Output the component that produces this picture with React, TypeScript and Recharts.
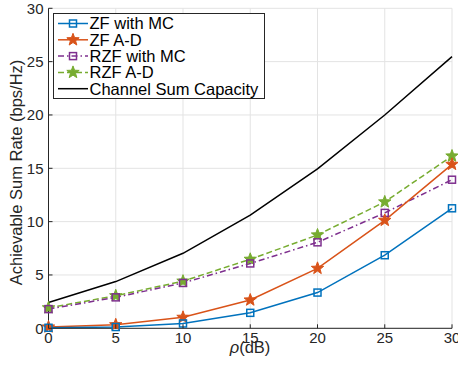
import React from 'react';
import { LineChart, Line, XAxis, YAxis, CartesianGrid, Legend } from 'recharts';

const rho = [0, 5, 10, 15, 20, 25, 30];
const zfMC = [0.05, 0.12, 0.45, 1.45, 3.35, 6.85, 11.25];
const zfAD = [0.12, 0.33, 1.03, 2.65, 5.62, 10.12, 15.37];
const rzfMC = [1.8, 2.9, 4.25, 6.08, 8.06, 10.82, 13.93];
const rzfAD = [1.92, 3.05, 4.42, 6.47, 8.75, 11.85, 16.15];
const capacity = [2.42, 4.38, 7.03, 10.6, 14.95, 20.0, 25.47];

const xTicks = [0, 5, 10, 15, 20, 25, 30];
const yTicks = [0, 5, 10, 15, 20, 25, 30];

const seriesNames = ['ZF with MC', 'ZF A-D', 'RZF with MC', 'RZF A-D', 'Channel Sum Capacity'];

const data = rho.map((r, i) => ({
  rho: r,
  zfMC: zfMC[i],
  zfAD: zfAD[i],
  rzfMC: rzfMC[i],
  rzfAD: rzfAD[i],
  cap: capacity[i],
}));

const FONT = '"Liberation Sans", Arial, Helvetica, sans-serif';
const AX = '#262626';

const BLUE = '#0072BD';
const ORANGE = '#D95319';
const PURPLE = '#7E2F8E';
const GREEN = '#77AC30';

function starPath(cx: number, cy: number, R: number, r: number) {
  let d = '';
  for (let i = 0; i < 10; i++) {
    const a = (-90 + i * 36) * Math.PI / 180;
    const rad = i % 2 === 0 ? R : r;
    d += (i === 0 ? 'M' : 'L') + (cx + rad * Math.cos(a)).toFixed(2) + ',' + (cy + rad * Math.sin(a)).toFixed(2);
  }
  return d + 'Z';
}

const Square = (color: string) => (props: any) => {
  const { cx, cy, index } = props;
  if (cx == null || cy == null) return <g key={`s${index}`} />;
  return <rect key={`s${index}`} x={cx - 3.5} y={cy - 3.5} width={7} height={7} fill="none" stroke={color} strokeWidth={1.5} />;
};

const Star = (color: string) => (props: any) => {
  const { cx, cy, index } = props;
  if (cx == null || cy == null) return <g key={`t${index}`} />;
  return <path key={`t${index}`} d={starPath(cx, cy, 6.5, 2.7)} fill={color} stroke={color} strokeWidth={1} strokeLinejoin="miter" />;
};

const BottomTick = (props: any) => {
  const { x, y, payload } = props;
  return (
    <g>
      <line x1={x} y1={y} x2={x} y2={y - 4} stroke={AX} strokeWidth={1} />
      <text x={x} y={y + 14.7} textAnchor="middle" fontSize={15} fontFamily={FONT} fill={AX}>{payload.value}</text>
    </g>
  );
};

const TopTick = (props: any) => {
  const { x, y } = props;
  return <line x1={x} y1={y} x2={x} y2={y + 4} stroke={AX} strokeWidth={1} />;
};

const LeftTick = (props: any) => {
  const { x, y, payload } = props;
  return (
    <g>
      <line x1={x} y1={y} x2={x + 4} y2={y} stroke={AX} strokeWidth={1} />
      <text x={x - 5} y={y + 5.4} textAnchor="end" fontSize={15} fontFamily={FONT} fill={AX}>{payload.value}</text>
    </g>
  );
};

const RightTick = (props: any) => {
  const { x, y } = props;
  return <line x1={x} y1={y} x2={x - 4} y2={y} stroke={AX} strokeWidth={1} />;
};

const YTitle = () => (
  <text x={15.5} y={172.5} transform="rotate(-90, 15.5, 172.5)" textAnchor="middle" dominantBaseline="central" fontSize={16.5} fontFamily={FONT} fill={AX}>
    Achievable Sum Rate (bps/Hz)
  </text>
);

const XTitle = () => (
  <text x={250} y={353} textAnchor="middle" fontSize={16.5} fontFamily={FONT} fill={AX}>
    <tspan fontStyle="italic">ρ</tspan>(dB)
  </text>
);

const legendItems = [
  { name: seriesNames[0], color: BLUE, dash: undefined, marker: 'square' },
  { name: seriesNames[1], color: ORANGE, dash: undefined, marker: 'star' },
  { name: seriesNames[2], color: PURPLE, dash: '6 3 1.5 3', marker: 'square' },
  { name: seriesNames[3], color: GREEN, dash: '6 3', marker: 'star' },
  { name: seriesNames[4], color: '#000000', dash: undefined, marker: 'none' },
];

const LegendBox = () => (
  <svg width={213} height={87} style={{ display: 'block' }}>
    <rect x={0.5} y={0.5} width={211} height={85} fill="#ffffff" stroke={AX} strokeWidth={1} />
    {legendItems.map((it, i) => {
      const cy = 10.5 + i * 16.3;
      return (
        <g key={it.name}>
          <line x1={5} x2={35} y1={cy} y2={cy} stroke={it.color} strokeWidth={1.5} strokeDasharray={it.dash} />
          {it.marker === 'square' && <rect x={16.5} y={cy - 3.5} width={7} height={7} fill="none" stroke={it.color} strokeWidth={1.5} />}
          {it.marker === 'star' && <path d={starPath(20, cy, 6.5, 2.7)} fill={it.color} stroke={it.color} strokeWidth={1} />}
          <text x={36.5} y={cy + 5.8} fontSize={16.5} fontFamily={FONT} fill="#000">{it.name}</text>
        </g>
      );
    })}
  </svg>
);

export default function App() {
  return (
    <div style={{ position: 'absolute', left: 0, top: 0, width: 458, height: 366, background: '#fff' }}>
      <LineChart width={458} height={366} data={data} margin={{ top: 8.3, right: 6, left: 0, bottom: 0 }}>
        <CartesianGrid stroke="#e3e3e3" strokeWidth={1} />
        <XAxis
          dataKey="rho"
          type="number"
          domain={[0, 30]}
          ticks={xTicks}
          height={37.7}
          tickSize={0}
          tickMargin={0}
          tickLine={false}
          axisLine={{ stroke: AX, strokeWidth: 1 }}
          tick={<BottomTick />}
          interval={0}
          label={<XTitle />}
        />
        <XAxis
          xAxisId="top"
          orientation="top"
          dataKey="rho"
          type="number"
          domain={[0, 30]}
          ticks={xTicks}
          height={0}
          tickSize={0}
          tickMargin={0}
          tickLine={false}
          axisLine={{ stroke: AX, strokeWidth: 1 }}
          tick={<TopTick />}
          interval={0}
        />
        <YAxis
          type="number"
          domain={[0, 30]}
          ticks={yTicks}
          width={48.5}
          tickSize={0}
          tickMargin={0}
          tickLine={false}
          axisLine={{ stroke: AX, strokeWidth: 1 }}
          tick={<LeftTick />}
          interval={0}
          label={<YTitle />}
        />
        <YAxis
          yAxisId="right"
          orientation="right"
          type="number"
          domain={[0, 30]}
          ticks={yTicks}
          width={0}
          tickSize={0}
          tickMargin={0}
          tickLine={false}
          axisLine={{ stroke: AX, strokeWidth: 1 }}
          tick={<RightTick />}
          interval={0}
        />
        <Line dataKey="cap" name={seriesNames[4]} stroke="#000000" strokeWidth={1.5} dot={false} isAnimationActive={false} />
        <Line dataKey="rzfAD" name={seriesNames[3]} stroke={GREEN} strokeWidth={1.5} strokeDasharray="6 3" dot={Star(GREEN)} isAnimationActive={false} />
        <Line dataKey="rzfMC" name={seriesNames[2]} stroke={PURPLE} strokeWidth={1.5} strokeDasharray="6 3 1.5 3" dot={Square(PURPLE)} isAnimationActive={false} />
        <Line dataKey="zfAD" name={seriesNames[1]} stroke={ORANGE} strokeWidth={1.5} dot={Star(ORANGE)} isAnimationActive={false} />
        <Line dataKey="zfMC" name={seriesNames[0]} stroke={BLUE} strokeWidth={1.5} dot={Square(BLUE)} isAnimationActive={false} />
        <Legend
          layout="horizontal"
          verticalAlign="middle"
          align="center"
          wrapperStyle={{ position: 'absolute', left: 53, top: 13, width: 213, height: 87, margin: 0, padding: 0 }}
          content={() => <LegendBox />}
        />
      </LineChart>
    </div>
  );
}
